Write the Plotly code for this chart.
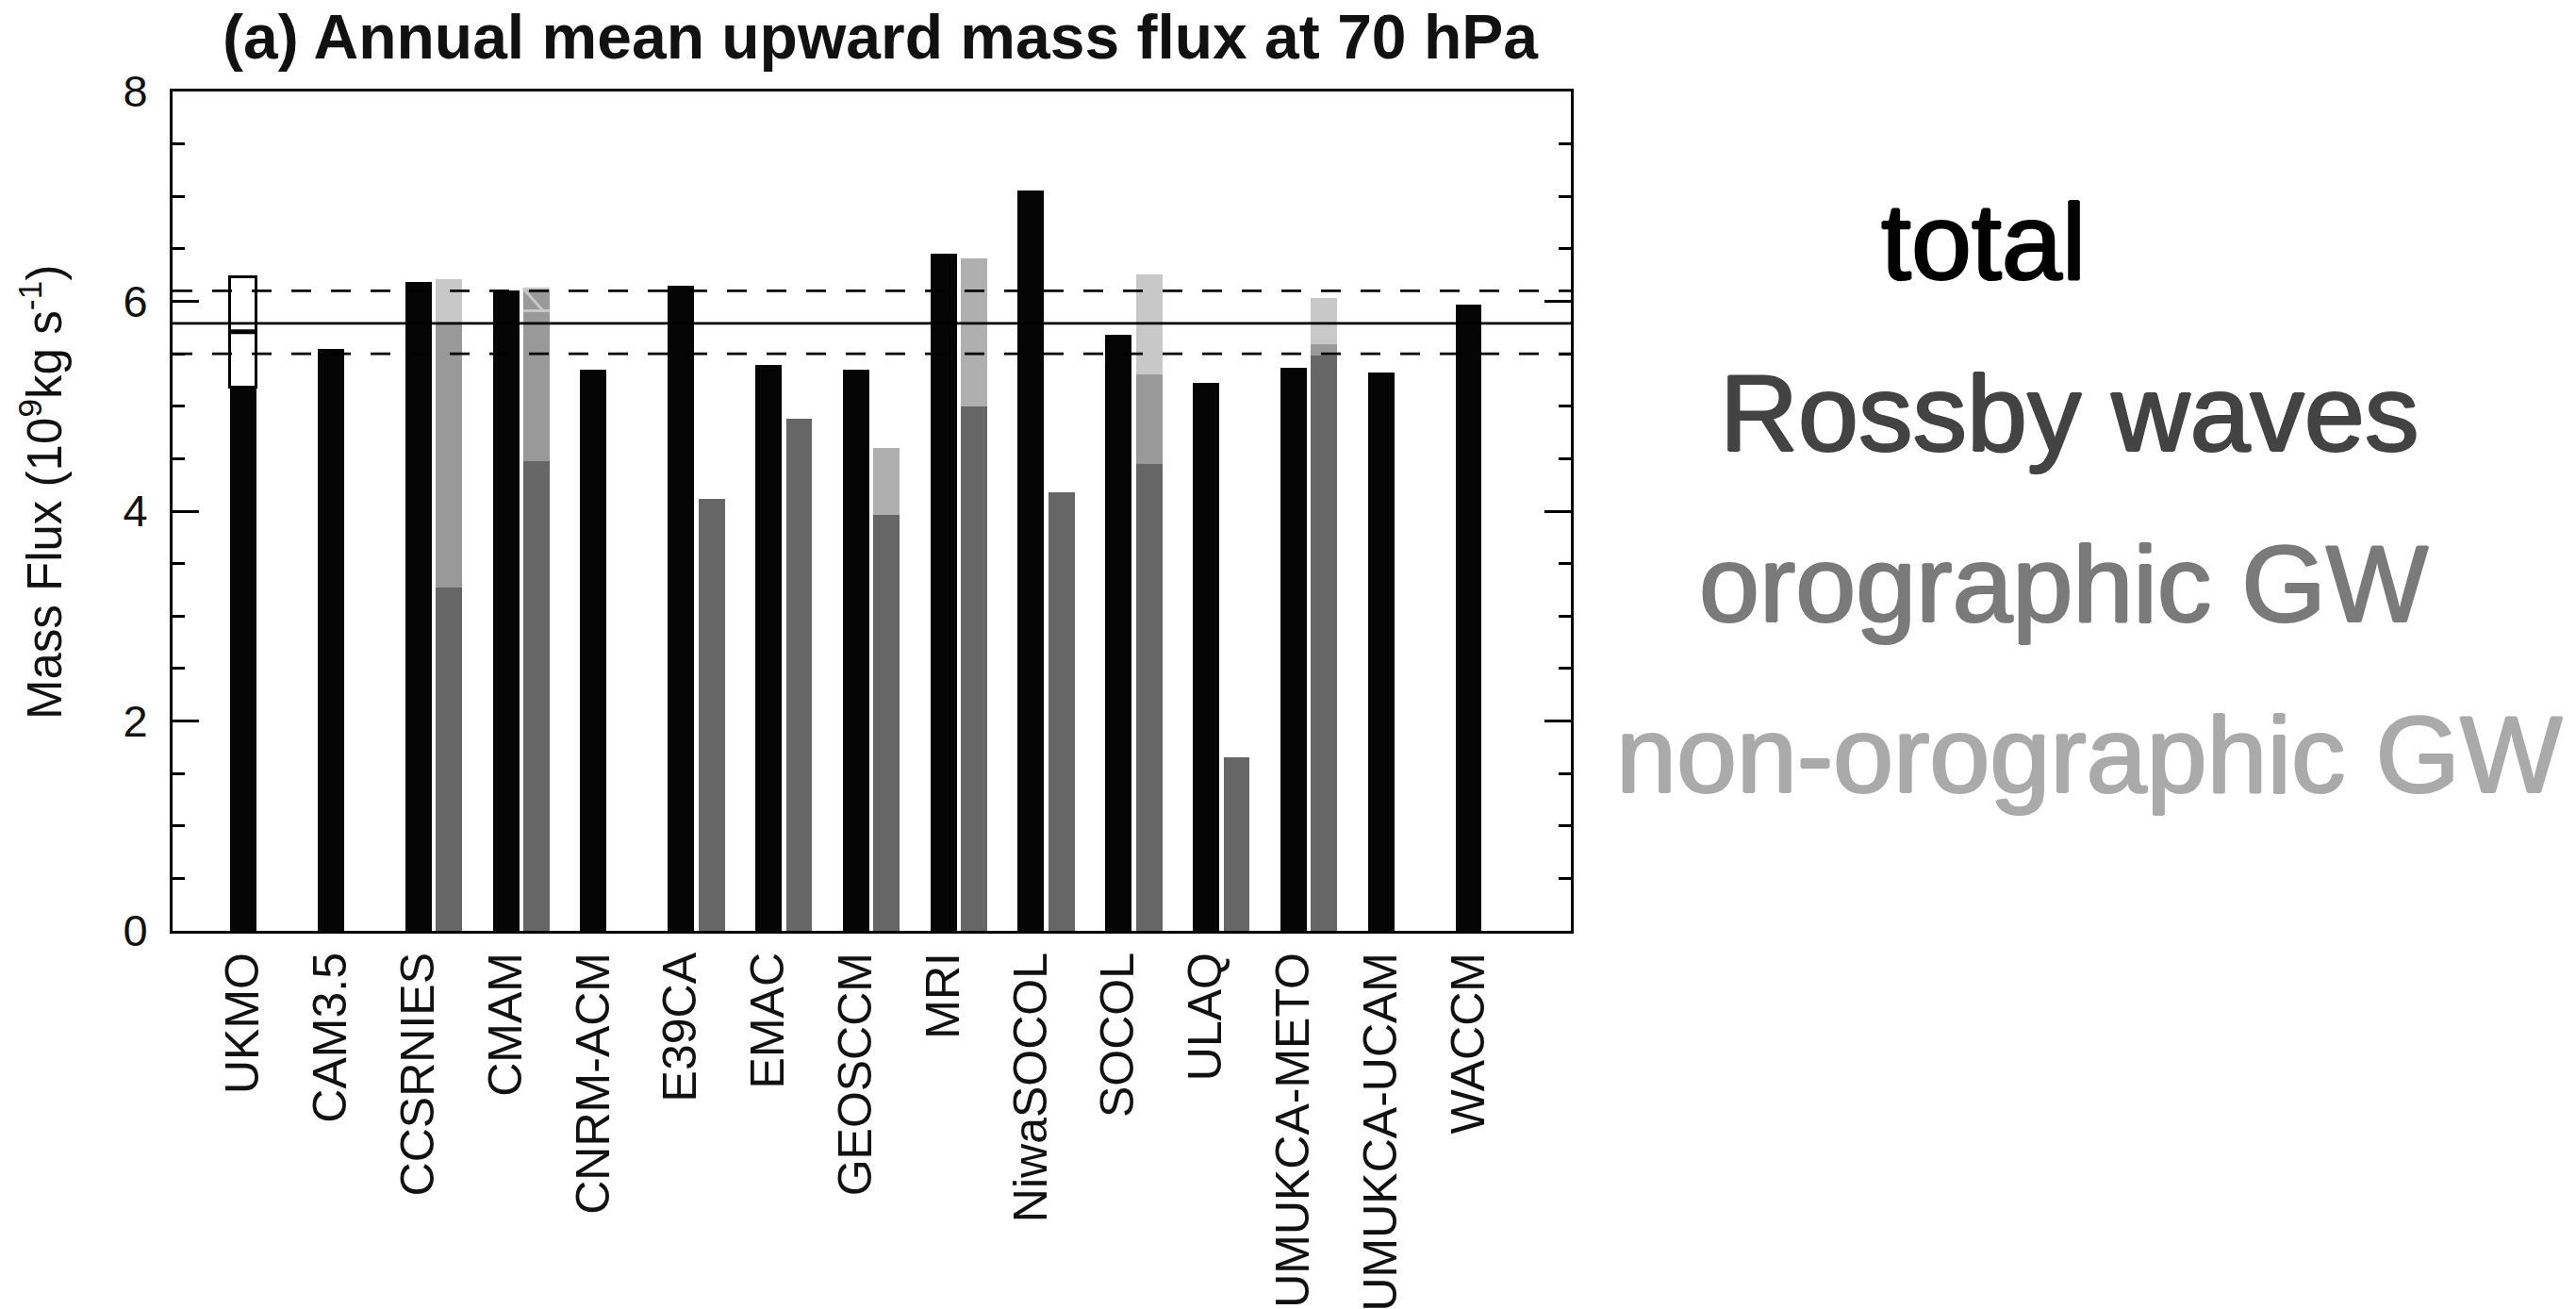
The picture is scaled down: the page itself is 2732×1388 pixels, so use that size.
import plotly.graph_objects as go

# ---- data -------------------------------------------------------------
models = ["UKMO", "CAM3.5", "CCSRNIES", "CMAM", "CNRM-ACM", "E39CA", "EMAC",
          "GEOSCCM", "MRI", "NiwaSOCOL", "SOCOL", "ULAQ", "UMUKCA-METO",
          "UMUKCA-UCAM", "WACCM"]

# annual mean upward mass flux at 70 hPa (10^9 kg/s)
total = [5.18, 5.55, 6.18, 6.10, 5.35, 6.15, 5.39, 5.35, 6.45, 7.06,
         5.68, 5.22, 5.37, 5.32, 5.97]

# contributions (None = not available)
rossby = [None, None, 3.27, 4.48, None, 4.12, 4.88, 3.96, 5.00, 4.18,
          4.45, 1.65, 5.48, None, None]
orographic = [None, None, 2.53, 1.64, None, None, None, None, None, None,
              0.85, None, 0.11, None, None]
non_orographic = [None, None, 0.41, -0.21, None, None, None, None, None, None,
                  0.96, None, 0.44, None, None]
# gravity-wave drag not separated into orographic / non-orographic parts
gw_combined = [None, None, None, None, None, None, None, 0.64, 1.41, None,
               None, None, None, None, None]

# UKMO analyses: range and central value
ukmo_low, ukmo_mid, ukmo_high = 5.18, 5.71, 6.23

# multi-model mean and its uncertainty band
mmm_mean = 5.79
mmm_low = 5.50
mmm_high = 6.10

# ---- styling ----------------------------------------------------------
FONT = "Liberation Sans, Arial, Helvetica, sans-serif"
C_TOTAL = "#040504"
C_ROSSBY = "#666666"
C_ORO = "#999999"
C_NONORO = "#c8c8c8"
C_COMB = "#afafaf"

BAR_W = 0.30
OFFSET = 0.35

W, H = 2732, 1388
PX_L, PX_R, PX_T, PX_B = 183, 1666, 97, 987


def px_x(px):
    return px / W


def px_y(py):
    return 1 - py / H


def heavier(color, d=1.3):
    # thicken glyph strokes slightly with a same-coloured text shadow
    return ", ".join(f"{dx}px {dy}px 0 {color}"
                     for dx, dy in [(d, 0), (-d, 0), (0, d * 0.7), (0, -d * 0.7)])


idx = list(range(len(models)))
xc = [i + OFFSET for i in idx]


def nz(v):
    return 0.0 if v is None else v


fig = go.Figure()

# total
fig.add_trace(go.Bar(x=idx, y=total, width=BAR_W, name="total",
                     marker=dict(color=C_TOTAL, line=dict(width=0)),
                     showlegend=False))

# Rossby waves (bottom of the stack)
fig.add_trace(go.Bar(x=xc, y=rossby, width=BAR_W, name="Rossby waves",
                     marker=dict(color=C_ROSSBY, line=dict(width=0)),
                     showlegend=False))

# orographic GW on top of Rossby
oro_base = [nz(r) for r in rossby]
fig.add_trace(go.Bar(x=xc, y=orographic, base=oro_base, width=BAR_W,
                     name="orographic GW",
                     marker=dict(color=C_ORO, line=dict(width=0)),
                     showlegend=False))

# combined GW on top of Rossby
fig.add_trace(go.Bar(x=xc, y=gw_combined, base=oro_base, width=BAR_W,
                     name="GW",
                     marker=dict(color=C_COMB, line=dict(width=0)),
                     showlegend=False))

# non-orographic GW (positive parts) stacked above orographic
nono_pos = [v if (v is not None and v > 0) else None for v in non_orographic]
nono_base = [nz(r) + nz(o) for r, o in zip(rossby, orographic)]
fig.add_trace(go.Bar(x=xc, y=nono_pos, base=nono_base, width=BAR_W,
                     name="non-orographic GW",
                     marker=dict(color=C_NONORO, line=dict(width=0)),
                     showlegend=False))

# negative non-orographic contribution drawn as an outline
for i, v in enumerate(non_orographic):
    if v is not None and v < 0:
        top = nono_base[i]
        bot = top + v
        x0 = xc[i] - BAR_W / 2
        x1 = xc[i] + BAR_W / 2
        fig.add_trace(go.Scatter(
            x=[x1, x0, x0 + 0.75 * BAR_W, x1, None, x0, x1],
            y=[top, top, bot, bot, None, bot, bot],
            mode="lines", line=dict(color=C_NONORO, width=3),
            hoverinfo="skip", showlegend=False))

# UKMO analyses box with central value
fig.add_trace(go.Bar(x=[idx[0]], y=[ukmo_high - ukmo_low], base=[ukmo_low],
                     width=BAR_W,
                     marker=dict(color="white", line=dict(color="black", width=3)),
                     showlegend=False))
fig.add_trace(go.Scatter(x=[idx[0] - BAR_W / 2, idx[0] + BAR_W / 2],
                         y=[ukmo_mid, ukmo_mid], mode="lines",
                         line=dict(color="black", width=5),
                         hoverinfo="skip", showlegend=False))

# multi-model mean lines
for val, dash in [(mmm_mean, "solid"), (mmm_low, "21px,21px"), (mmm_high, "21px,21px")]:
    fig.add_shape(type="line", xref="x domain", yref="y", x0=0, x1=1,
                  y0=val, y1=val, layer="above",
                  line=dict(color="black", width=2.7, dash=dash))

# ---- axes -------------------------------------------------------------
fig.update_xaxes(
    domain=[px_x(PX_L), px_x(PX_R)],
    range=[-0.81, 15.17],
    tickmode="array", tickvals=idx, ticktext=models, tickangle=-90,
    ticks="", showline=True, linecolor="black", linewidth=3, mirror=True,
    showgrid=False, zeroline=False,
    tickfont=dict(family=FONT, size=50, color="#111111"),
)
fig.update_yaxes(
    domain=[px_y(PX_B), px_y(PX_T)],
    range=[0, 8], dtick=2, tick0=0,
    ticks="inside", ticklen=28, tickwidth=3, tickcolor="black",
    minor=dict(ticks="inside", ticklen=13, tickwidth=3, dtick=0.5,
               tickcolor="black", showgrid=False),
    showline=True, linecolor="black", linewidth=3, mirror="ticks",
    showgrid=False, zeroline=False,
    ticklabelstandoff=14,
    tickfont=dict(family=FONT, size=47, color="#111111"),
)

# ---- text -------------------------------------------------------------
annotations = [
    dict(text="<b>(a) Annual mean upward mass flux at 70 hPa</b>",
         x=px_x(934), y=px_y(39), xanchor="center", yanchor="middle",
         font=dict(family=FONT, size=66, color="#111111")),
    dict(text="Mass Flux (10<sup>9</sup>kg s<sup>-1</sup>)",
         x=px_x(44), y=px_y(522), xanchor="center", yanchor="middle",
         textangle=-90, font=dict(family=FONT, size=51, color="#111111")),
]

legend_items = [
    ("total", "#000000", 1993, 256),
    ("Rossby waves", "#434343", 1822, 438),
    ("orographic GW", "#7a7a7a", 1800, 619),
    ("non-orographic GW", "#aaaaaa", 1712, 800),
]
for label, color, lx, ly in legend_items:
    annotations.append(dict(text=label, x=px_x(lx), y=px_y(ly),
                            xanchor="left", yanchor="middle",
                            font=dict(family=FONT, size=115, color=color,
                                      shadow=heavier(color))))

for a in annotations:
    a.update(xref="paper", yref="paper", showarrow=False)

fig.update_layout(
    width=W, height=H,
    margin=dict(l=0, r=0, t=0, b=0),
    paper_bgcolor="white", plot_bgcolor="white",
    barmode="overlay", bargap=0,
    annotations=annotations,
    showlegend=False,
    template="none",
)

fig.write_html("out.html")
